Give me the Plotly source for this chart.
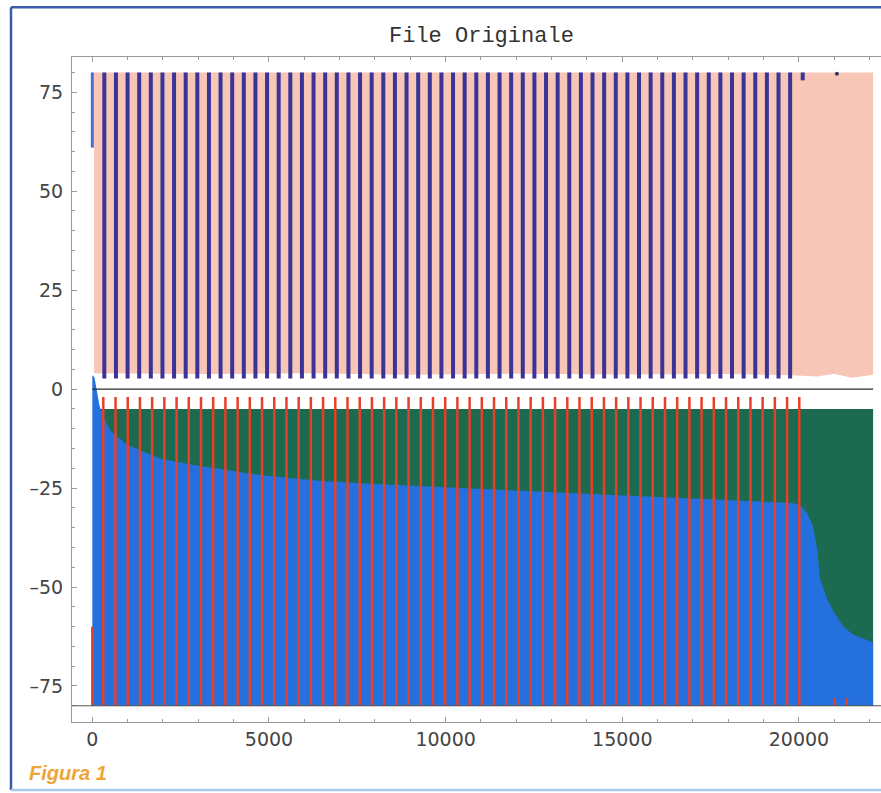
import plotly.graph_objects as go

# ---------------- data ----------------
x_tick_vals = [0, 5000, 10000, 15000, 20000]
x_tick_text = ["0", "5000", "10000", "15000", "20000"]
y_tick_vals = [-75, -50, -25, 0, 25, 50, 75]
y_tick_text = ["\u201375", "\u201350", "\u201325", "0", "25", "50", "75"]

# upper channel : pink envelope
pink_x = [50, 3000, 6000, 9000, 12000, 15000, 18000, 19800, 20500, 21000, 21500, 22100]
pink_top = [80, 80, 80, 80, 80, 80, 80, 80, 80, 80, 80, 80]
pink_bottom = [4.0, 3.8, 4.0, 3.6, 3.9, 3.7, 3.8, 3.5, 3.2, 3.9, 2.9, 3.6]

# upper channel : dark blue pulses
blue_bar_x = [340, 669, 998, 1327, 1656, 1985, 2314, 2643, 2972, 3301,
              3630, 3959, 4288, 4617, 4946, 5275, 5604, 5933, 6262, 6591,
              6920, 7249, 7578, 7907, 8236, 8565, 8894, 9223, 9552, 9881,
              10210, 10539, 10868, 11197, 11526, 11855, 12184, 12513, 12842, 13171,
              13500, 13829, 14158, 14487, 14816, 15145, 15474, 15803, 16132, 16461,
              16790, 17119, 17448, 17777, 18106, 18435, 18764, 19093, 19422, 19751]
blue_bar_low = 2.7
blue_bar_high = 80
first_bar_x = [0]
first_bar_low = 61
first_bar_high = 80
upper_blip_x = [20107]
upper_blip_low = 78
upper_blip_high = 80
upper_dot_x = [21075]
upper_dot_y = [79.7]

# lower channel : green envelope
green_x = [170, 22100]
green_top = [-5, -5]
green_bottom = [-80, -80]

# lower channel : blue envelope (upper edge)
blue_x = [0, 60, 120, 200, 265, 500, 970, 1440, 1915, 2860, 3800, 4750, 5690,
          6500, 8000, 10000, 12000, 14000, 16000, 18000, 19800, 20030, 20230,
          20400, 20510, 20600, 20800, 20970, 21250, 21530, 21930, 22100]
blue_top = [3.5, 3.0, 0.0, -4.0, -6.0, -10.4, -14.0, -15.8, -17.5, -19.2, -20.5,
            -21.7, -22.5, -23.2, -24.0, -24.8, -25.6, -26.5, -27.2, -28.0, -28.8,
            -29.3, -31.3, -34.8, -40.0, -48.0, -53.0, -56.0, -60.0, -62.0, -63.4, -64.0]
blue_floor = -80

# lower channel : red pulses
red_x = [311, 657, 1002, 1348, 1693, 2039, 2385, 2730, 3076, 3421,
         3767, 4113, 4458, 4804, 5149, 5495, 5841, 6186, 6532, 6877,
         7223, 7569, 7914, 8260, 8605, 8951, 9297, 9642, 9988, 10333,
         10679, 11025, 11370, 11716, 12061, 12407, 12753, 13098, 13444, 13789,
         14135, 14481, 14826, 15172, 15517, 15863, 16209, 16554, 16900, 17245,
         17591, 17937, 18282, 18628, 18973, 19319, 19665, 20010]
red_low = -80
red_high = -2
red_first_x = [0]
red_first_low = -80
red_first_high = -60
red_small_x = [21015, 21355]
red_small_low = -80
red_small_high = -78

zero_line_x = [0, 22100]
zero_line_y = [0, 0]
floor_level = -80

# ---------------- styling ----------------
PINK = "#F7C6B6"
NAVY = "#3A3496"
GREEN = "#1C6A4F"
BLUE = "#2470DF"
RED = "#E5402A"
FRAME = "#9A9A9A"
TXT = "#444444"


def pulses(xs, lo, hi):
    """vertical segments (x, lo)-(x, hi) joined into one path with gaps"""
    px_, py_ = [], []
    for x in xs:
        px_ += [x, x, None]
        py_ += [lo, hi, None]
    return px_, py_


fig = go.Figure()

# pink envelope
fig.add_trace(go.Scatter(
    x=pink_x + pink_x[::-1], y=pink_top + pink_bottom[::-1],
    fill="toself", fillcolor=PINK, line=dict(width=0), mode="lines",
    hoverinfo="skip", showlegend=False))

# navy pulses
sx, sy = pulses(blue_bar_x, blue_bar_low, blue_bar_high)
fig.add_trace(go.Scatter(x=sx, y=sy, mode="lines",
                         line=dict(color=NAVY, width=4), showlegend=False))
sx, sy = pulses(first_bar_x, first_bar_low, first_bar_high)
fig.add_trace(go.Scatter(x=sx, y=sy, mode="lines",
                         line=dict(color="#4A6CCB", width=3), showlegend=False))
sx, sy = pulses(upper_blip_x, upper_blip_low, upper_blip_high)
fig.add_trace(go.Scatter(x=sx, y=sy, mode="lines",
                         line=dict(color=NAVY, width=4), showlegend=False))
fig.add_trace(go.Scatter(
    x=upper_dot_x, y=upper_dot_y, mode="markers",
    marker=dict(color="#333366", size=4), showlegend=False))

# green envelope
fig.add_trace(go.Scatter(
    x=green_x + green_x[::-1], y=green_top + green_bottom[::-1],
    fill="toself", fillcolor=GREEN, line=dict(width=0), mode="lines",
    hoverinfo="skip", showlegend=False))

# blue envelope
fig.add_trace(go.Scatter(
    x=blue_x + blue_x[::-1], y=blue_top + [blue_floor] * len(blue_x),
    fill="toself", fillcolor=BLUE, line=dict(width=0), mode="lines",
    hoverinfo="skip", showlegend=False))

# red pulses
sx, sy = pulses(red_x, red_low, red_high)
fig.add_trace(go.Scatter(x=sx, y=sy, mode="lines",
                         line=dict(color=RED, width=2.5), showlegend=False))
sx, sy = pulses(red_first_x, red_first_low, red_first_high)
fig.add_trace(go.Scatter(x=sx, y=sy, mode="lines",
                         line=dict(color=RED, width=2.5), showlegend=False))
sx, sy = pulses(red_small_x, red_small_low, red_small_high)
fig.add_trace(go.Scatter(x=sx, y=sy, mode="lines",
                         line=dict(color=RED, width=2.5), showlegend=False))

# zero line
fig.add_trace(go.Scatter(
    x=zero_line_x, y=zero_line_y, mode="lines",
    line=dict(color="#2A2A2A", width=1.4), showlegend=False))

# floor line (spans the frame)
fig.add_shape(type="line", xref="paper", x0=0, x1=1, yref="y",
              y0=floor_level, y1=floor_level, line=dict(color="#555555", width=1))

# outer figure border (magazine frame)
L, R, T, B = 72, 881, 56.7, 722
W, H = R - L, B - T


def px(xp):
    return (xp - L) / W


def py(yp):
    return (B - yp) / H


fig.add_shape(type="line", xref="paper", yref="paper",
              x0=px(11), x1=px(900), y0=py(7), y1=py(7),
              line=dict(color="#3A5BAA", width=2.5))
fig.add_shape(type="line", xref="paper", yref="paper",
              x0=px(11), x1=px(11), y0=py(7), y1=py(790),
              line=dict(color="#3A5BAA", width=2.5))
fig.add_shape(type="line", xref="paper", yref="paper",
              x0=px(11), x1=px(900), y0=py(790), y1=py(790),
              line=dict(color="#A9C8EC", width=2.5))

# title and caption
fig.add_annotation(text="File Originale", xref="paper", yref="paper",
                   x=px(481), y=py(36), xanchor="center", yanchor="middle",
                   showarrow=False,
                   font=dict(family="Liberation Mono, Courier New, monospace",
                             size=22, color="#333333"))
fig.add_annotation(text="<b><i>Figura 1</i></b>", xref="paper", yref="paper",
                   x=px(27), y=py(773.5), xanchor="left", yanchor="middle",
                   showarrow=False,
                   font=dict(family="Liberation Sans, Arial, sans-serif",
                             size=20, color="#EFA535"))

fig.update_layout(
    width=881, height=793,
    margin=dict(l=L, r=0, t=57, b=793 - B),
    paper_bgcolor="white", plot_bgcolor="white",
    showlegend=False,
    font=dict(family="DejaVu Sans, Verdana, sans-serif", size=19, color=TXT),
)
fig.update_xaxes(
    range=[-575, 22323], tickmode="array", tickvals=x_tick_vals,
    ticktext=x_tick_text, showgrid=False, zeroline=False,
    showline=True, linecolor=FRAME, linewidth=1, mirror="ticks",
    ticks="inside", ticklen=5, tickcolor=FRAME, tickwidth=1,
    minor=dict(dtick=1000, tick0=0, ticks="inside", ticklen=3,
               tickcolor=FRAME, showgrid=False),
    tickfont=dict(size=19, color=TXT),
)
fig.update_yaxes(
    range=[-84.1, 83.9], tickmode="array", tickvals=y_tick_vals,
    ticktext=y_tick_text, showgrid=False, zeroline=False,
    showline=True, linecolor=FRAME, linewidth=1, mirror=False,
    ticks="inside", ticklen=5, tickcolor=FRAME, tickwidth=1,
    ticklabelstandoff=4,
    minor=dict(dtick=5, tick0=0, ticks="inside", ticklen=3,
               tickcolor=FRAME, showgrid=False),
    tickfont=dict(size=19, color=TXT),
)

fig.write_html("out.html",
               config={"displayModeBar": False},
               post_script="document.body.style.margin='0';"
                           "document.body.style.overflow='hidden';")
